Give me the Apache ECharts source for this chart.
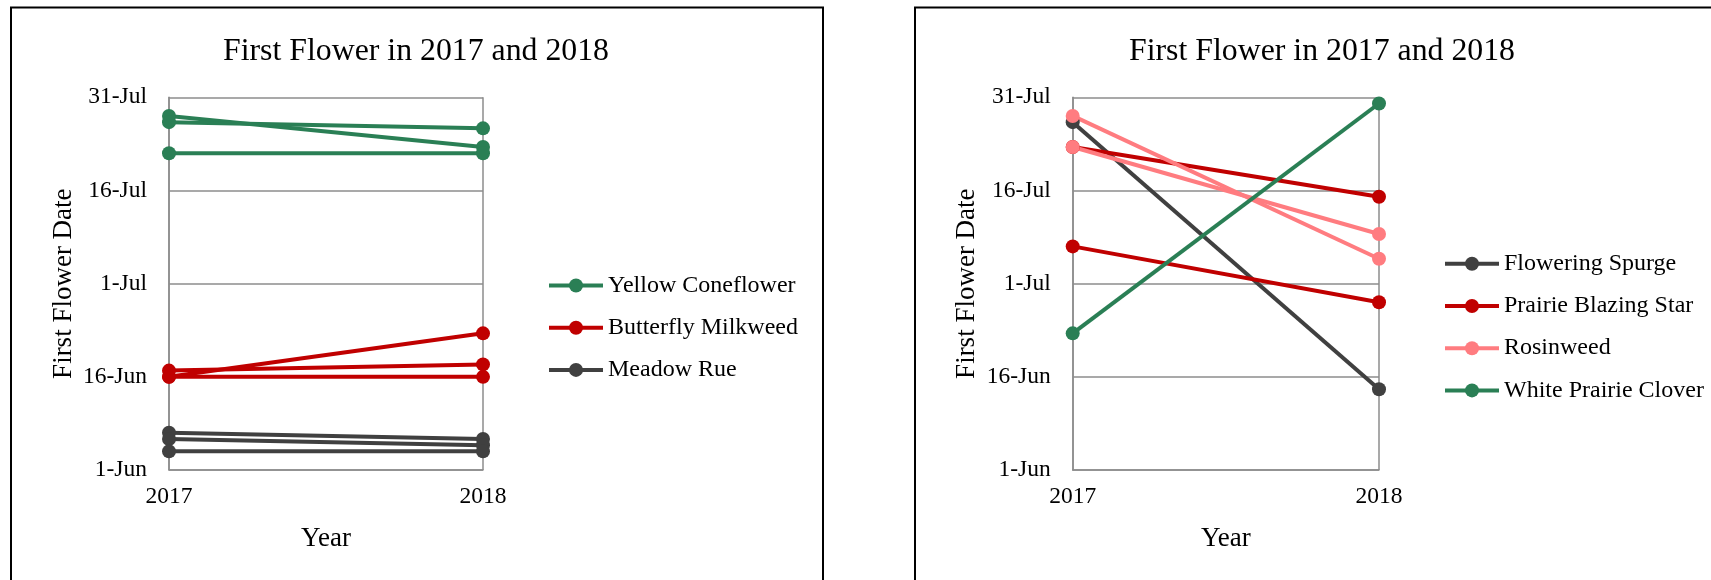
<!DOCTYPE html>
<html>
<head>
<meta charset="utf-8">
<script src="https://cdn.jsdelivr.net/npm/echarts@6/dist/echarts.min.js"></script>
<style>
html,body{margin:0;padding:0;background:#fff;}
#chart{width:1711px;height:580px;}
</style>
</head>
<body>
<div id="chart"></div>
<script>
// ---------- data ----------
const years = ['2017', '2018'];
const yTickLabels = ['1-Jun', '16-Jun', '1-Jul', '16-Jul', '31-Jul'];
const chartTitle = 'First Flower in 2017 and 2018';
const xAxisName = 'Year';
const yAxisName = 'First Flower Date';

// Left chart: each inner pair = [2017 date, 2018 date] for one line
const yellowConeflower = [['28-Jul', '23-Jul'], ['27-Jul', '26-Jul'], ['22-Jul', '22-Jul']];
const butterflyMilkweed = [['16-Jun', '23-Jun'], ['17-Jun', '18-Jun'], ['16-Jun', '16-Jun']];
const meadowRue = [['7-Jun', '6-Jun'], ['6-Jun', '5-Jun'], ['4-Jun', '4-Jun']];

// Right chart
const floweringSpurge = [['27-Jul', '14-Jun']];
const prairieBlazingStar = [['23-Jul', '15-Jul'], ['7-Jul', '28-Jun']];
const rosinweed = [['28-Jul', '5-Jul'], ['23-Jul', '9-Jul']];
const whitePrairieClover = [['23-Jun', '30-Jul']];

const leftNames = ['Yellow Coneflower', 'Butterfly Milkweed', 'Meadow Rue'];
const rightNames = ['Flowering Spurge', 'Prairie Blazing Star', 'Rosinweed', 'White Prairie Clover'];

// ---------- styling ----------
const COLORS = {
  green: '#2a7f55',
  red: '#c00000',
  pink: '#ff7c80',
  gray: '#404040'
};
const FONT = 'Liberation Serif';
const AXIS_GRAY = '#8c8c8c';

const MONTH_START = { Jun: 0, Jul: 30 };
function dayIndex(s) {
  const parts = s.split('-');
  return MONTH_START[parts[1]] + Number(parts[0]) - 1;
}

function makeSeries(name, lines, color, gridIdx) {
  return lines.map(pair => ({
    name: name,
    type: 'line',
    xAxisIndex: gridIdx,
    yAxisIndex: gridIdx,
    data: pair.map(dayIndex),
    symbol: 'circle',
    symbolSize: 14,
    showSymbol: true,
    color: color,
    itemStyle: { color: color },
    lineStyle: { color: color, width: 4 },
    emphasis: { disabled: true },
    animation: false,
    z: 3
  }));
}

const series = [].concat(
  makeSeries(leftNames[0], yellowConeflower, COLORS.green, 0),
  makeSeries(leftNames[1], butterflyMilkweed, COLORS.red, 0),
  makeSeries(leftNames[2], meadowRue, COLORS.gray, 0),
  makeSeries(rightNames[0], floweringSpurge, COLORS.gray, 1),
  makeSeries(rightNames[1], prairieBlazingStar, COLORS.red, 1),
  makeSeries(rightNames[2], rosinweed, COLORS.pink, 1),
  makeSeries(rightNames[3], whitePrairieClover, COLORS.green, 1)
);

function xAxisCfg(gridIndex) {
  return {
    type: 'category',
    gridIndex: gridIndex,
    data: years,
    boundaryGap: false,
    name: xAxisName,
    nameLocation: 'middle',
    nameGap: 55,
    nameTextStyle: { fontFamily: FONT, fontSize: 27, color: '#000' },
    axisLine: { show: true, lineStyle: { color: AXIS_GRAY, width: 1.5 } },
    axisTick: { show: false },
    axisLabel: { fontFamily: FONT, fontSize: 23.5, color: '#000', margin: 15 },
    splitLine: { show: true, lineStyle: { color: AXIS_GRAY, width: 1.5 } }
  };
}
function yAxisCfg(gridIndex) {
  return {
    type: 'value',
    gridIndex: gridIndex,
    min: 0,
    max: 60,
    interval: 15,
    name: yAxisName,
    nameLocation: 'middle',
    nameRotate: 90,
    nameGap: 92,
    nameTextStyle: { fontFamily: FONT, fontSize: 27, color: '#000' },
    axisLine: { show: true, lineStyle: { color: AXIS_GRAY, width: 1.5 } },
    axisTick: { show: false },
    axisLabel: {
      fontFamily: FONT, fontSize: 23.5, color: '#000', margin: 22,
      formatter: v => yTickLabels[Math.round(v / 15)]
    },
    splitLine: { show: true, lineStyle: { color: AXIS_GRAY, width: 1.5 } }
  };
}

function legendCfg(names, left, top) {
  return {
    orient: 'vertical',
    left: left,
    top: top,
    padding: 0,
    data: names,
    itemWidth: 54,
    itemHeight: 17.5,
    itemGap: 18.2,
    selectedMode: false,
    lineStyle: { width: 4 },
    textStyle: { fontFamily: FONT, fontSize: 24, color: '#000', lineHeight: 24 }
  };
}

const option = {
  backgroundColor: '#fff',
  animation: false,
  title: [
    { text: chartTitle, left: 416, top: 35.5, padding: 0, textAlign: 'center',
      textStyle: { fontFamily: FONT, fontSize: 31.8, fontWeight: 'normal', color: '#000' } },
    { text: chartTitle, left: 1322, top: 35.5, padding: 0, textAlign: 'center',
      textStyle: { fontFamily: FONT, fontSize: 31.8, fontWeight: 'normal', color: '#000' } }
  ],
  grid: [
    { left: 169, top: 97.3, width: 314, height: 372.7, containLabel: false },
    { left: 1072.7, top: 97.3, width: 306.3, height: 372.7, containLabel: false }
  ],
  xAxis: [xAxisCfg(0), xAxisCfg(1)],
  yAxis: [yAxisCfg(0), yAxisCfg(1)],
  legend: [
    legendCfg(leftNames, 547, 273.5),
    legendCfg(rightNames, 1443, 251.8)
  ],
  graphic: [
    { type: 'rect', shape: { x: 11, y: 7.5, width: 812, height: 620 },
      style: { fill: null, stroke: '#000', lineWidth: 2 }, z: 10, silent: true },
    { type: 'rect', shape: { x: 915, y: 7.5, width: 830, height: 620 },
      style: { fill: null, stroke: '#000', lineWidth: 2 }, z: 10, silent: true }
  ],
  series: series
};

const chart = echarts.init(document.getElementById('chart'), null, { renderer: 'canvas' });
chart.setOption(option);
</script>
</body>
</html>
